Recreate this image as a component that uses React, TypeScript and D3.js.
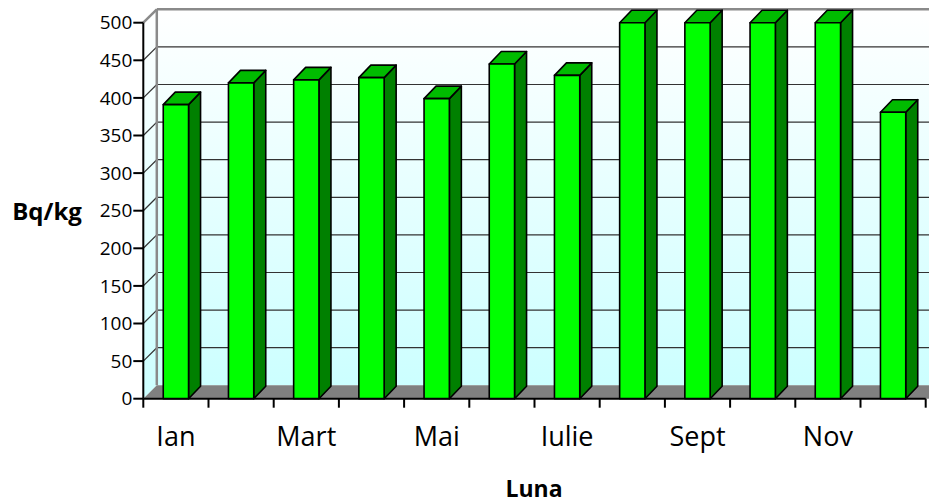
import * as d3 from "d3";

const MONTHS = ["Ian", "Feb", "Mart", "Apr", "Mai", "Iun", "Iulie", "Aug", "Sept", "Oct", "Nov", "Dec"];
const VALUES = [391, 420, 424, 427, 399, 445, 430, 500, 500, 500, 500, 381];
const Y_TICKS = [0, 50, 100, 150, 200, 250, 300, 350, 400, 450, 500];

const W = 929;
const H = 504;
const X0 = 143.3;
const X1 = 925.7;
const Y0 = 398.7;
const Y1 = 22.7;
const DEPTH = { dx: 13.5, dy: 13.4 }; // wall depth
const BAR_D = { dx: 12, dy: 12.5 }; // bar depth
const FONT = "'Open Sans', 'Noto Sans', sans-serif";

const App = () => {
  const x = d3.scaleBand<string>().domain(MONTHS).range([X0, X1]).paddingInner(0.612).paddingOuter(0.306);
  const y = d3.scaleLinear().domain([0, 500]).range([Y0, Y1]);
  const step = x.step();
  const bw = x.bandwidth();

  const backLeft = X0 + DEPTH.dx;
  const backTop = Y1 - DEPTH.dy;
  const backBottom = Y0 - DEPTH.dy;

  return (
    <svg width={W} height={H} style={{ position: "absolute", left: 0, top: 0 }} fontFamily={FONT}>
      <defs>
        <linearGradient id="wall" x1="0" y1="0" x2="0" y2="1">
          <stop offset="0" stopColor="#ffffff" />
          <stop offset="1" stopColor="#ccffff" />
        </linearGradient>
      </defs>
      <rect width={W} height={H} fill="#fff" />

      {/* back wall and left wall */}
      <rect x={backLeft} y={backTop} width={W - backLeft + 20} height={backBottom - backTop} fill="url(#wall)" />
      <polygon
        points={`${X0},${Y1} ${backLeft},${backTop} ${backLeft},${backBottom} ${X0},${Y0}`}
        fill="url(#wall)"
      />

      {/* grid lines */}
      {Y_TICKS.filter((t) => t > 0).map((t) => (
        <g key={t}>
          <line
            x1={backLeft}
            x2={W + 20}
            y1={y(t) - DEPTH.dy}
            y2={y(t) - DEPTH.dy}
            stroke={t === 500 ? "#8a8a8a" : "#333"}
            strokeWidth={t === 500 ? 2.5 : 1.2}
          />
          <line
            x1={X0}
            y1={y(t)}
            x2={backLeft}
            y2={y(t) - DEPTH.dy}
            stroke={t === 500 ? "#8a8a8a" : "#333"}
            strokeWidth={t === 500 ? 2.5 : 1.2}
          />
        </g>
      ))}
      <line x1={backLeft} x2={backLeft} y1={backTop} y2={backBottom} stroke="#8a8a8a" strokeWidth={2.5} />

      {/* floor */}
      <polygon
        points={`${X0},${Y0} ${backLeft},${backBottom} ${W + 20},${backBottom} ${W + 20},${Y0}`}
        fill="#808080"
      />

      {/* bars */}
      {MONTHS.map((m, i) => {
        const bx = x(m) as number;
        const top = y(VALUES[i]);
        const r = bx + bw;
        return (
          <g key={m} stroke="#000" strokeWidth={1.6} strokeLinejoin="round">
            <polygon
              points={`${r},${top} ${r + BAR_D.dx},${top - BAR_D.dy} ${r + BAR_D.dx},${Y0 - BAR_D.dy} ${r},${Y0}`}
              fill="#008000"
            />
            <polygon
              points={`${bx},${top} ${bx + BAR_D.dx},${top - BAR_D.dy} ${r + BAR_D.dx},${top - BAR_D.dy} ${r},${top}`}
              fill="#00bb00"
            />
            <rect x={bx} y={top} width={bw} height={Y0 - top} fill="#00ff00" />
          </g>
        );
      })}

      {/* y axis */}
      <line x1={X0} x2={X0} y1={Y1} y2={Y0} stroke="#000" strokeWidth={2} />
      {Y_TICKS.map((t) => (
        <g key={t}>
          <line x1={X0 - 10} x2={X0} y1={y(t)} y2={y(t)} stroke="#000" strokeWidth={2} />
          <text x={X0 - 11} y={y(t)} dy="0.35em" textAnchor="end" fontSize={19} fill="#000">
            {t}
          </text>
        </g>
      ))}

      {/* x axis */}
      <line x1={X0} x2={X1} y1={Y0} y2={Y0} stroke="#000" strokeWidth={2} />
      {d3.range(MONTHS.length + 1).map((k) => (
        <line key={k} x1={X0 + k * step} x2={X0 + k * step} y1={Y0} y2={Y0 + 9} stroke="#000" strokeWidth={2} />
      ))}
      {MONTHS.map((m, i) =>
        i % 2 === 0 ? (
          <text key={m} x={(x(m) as number) + bw / 2} y={446} textAnchor="middle" fontSize={27} fill="#000">
            {m}
          </text>
        ) : null
      )}

      {/* axis titles */}
      <text x={47} y={212} dy="0.35em" textAnchor="middle" fontSize={24} fontWeight="bold" fill="#000">
        Bq/kg
      </text>
      <text x={534} y={497} textAnchor="middle" fontSize={23} fontWeight="bold" fill="#000">
        Luna
      </text>
    </svg>
  );
};

export default App;
